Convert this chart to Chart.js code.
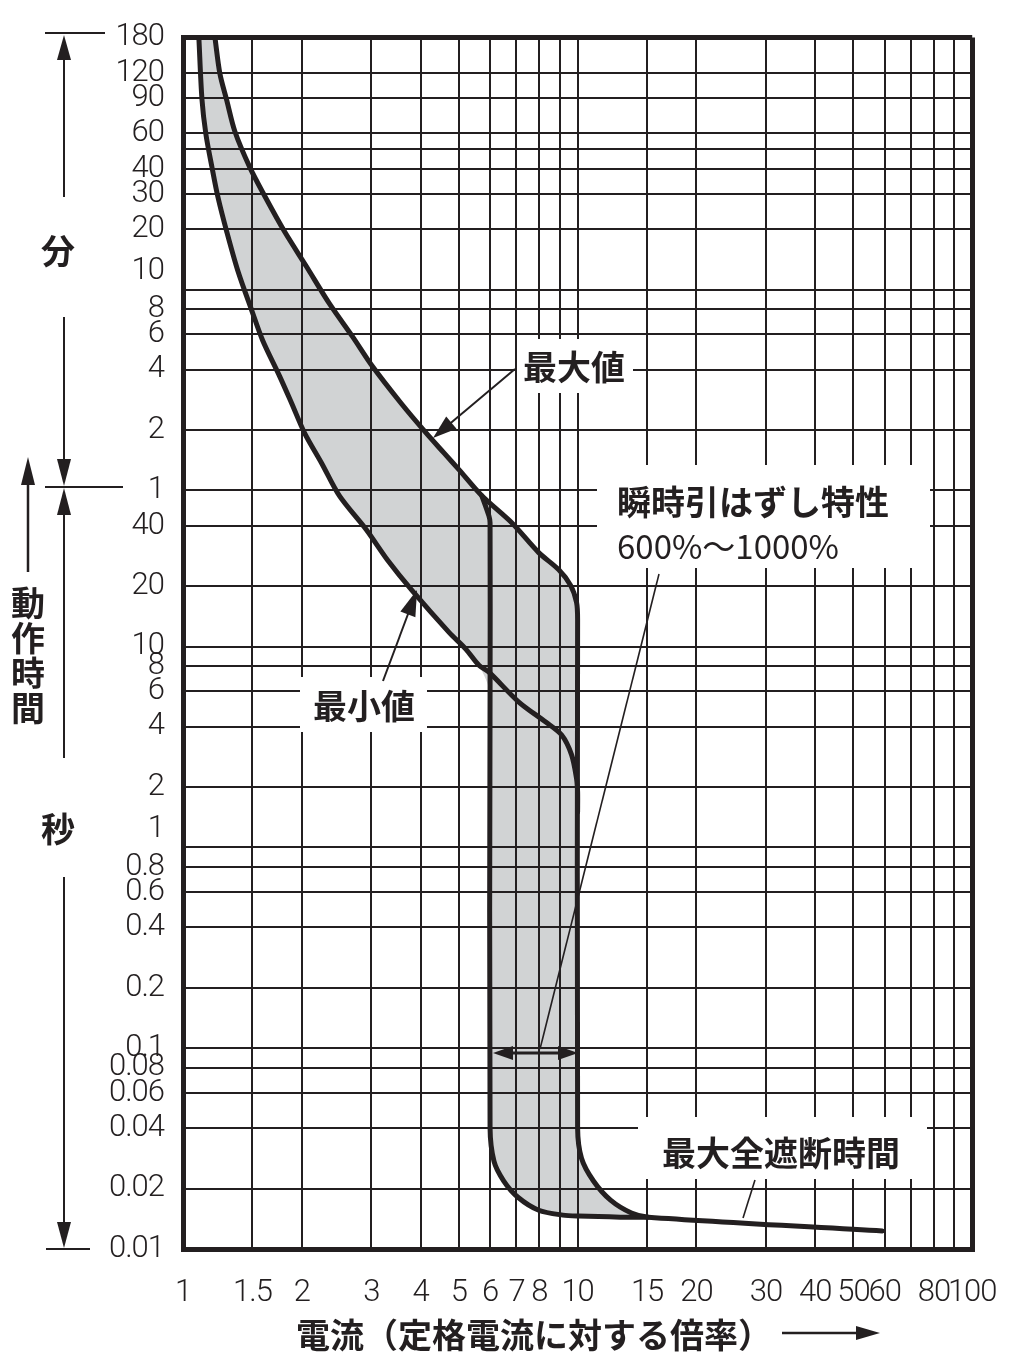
<!DOCTYPE html>
<html>
<head>
<meta charset="utf-8">
<script src="https://cdn.jsdelivr.net/npm/chart.js@4.4.1/dist/chart.umd.min.js"></script>
<style>
html,body{margin:0;padding:0;background:#fff;}
#wrap{position:relative;width:1024px;height:1366px;}
</style>
</head>
<body>
<div id="wrap"><canvas id="c"></canvas></div>
<script>
// ---------- tick values / labels ----------
const xTickValues = [1,1.5,2,3,4,5,6,7,8,9,10,15,20,30,40,50,60,70,80,90,100];
const xTickLabels = ['1','1.5','2','3','4','5','6','7','8','','10','15','20','30','40','50','60','','80','','100'];
// y axis in seconds (upper part labelled in minutes)
const yTickSeconds = [0.01,0.02,0.04,0.06,0.08,0.1,0.2,0.4,0.6,0.8,1,2,4,6,8,10,20,40,60,120,240,360,480,600,1200,1800,2400,3000,3600,5400,7200,10800];
const yTickLabels = ['0.01','0.02','0.04','0.06','0.08','0.1','0.2','0.4','0.6','0.8',['1',''],'2','4','6','8','10','20','40','1','2','4','6','8',['10',''],'20','30','40','','60','90','120','180'];

// ---------- series (x = multiple of rated current, y = seconds) ----------
// maximum curve (thermal max -> 1000% instantaneous -> max total clearing time)
const maxCurveX = [1.205,1.24,1.291,1.353,1.476,1.611,1.81,2.057,2.35,2.687,3.02,3.57,4.13,4.59,5.01,5.72,6.81,7.97,8.95,9.6,9.94,10,10,10.23,10.97,12.12,13.69,15.11,59.2];
const maxCurveY = [10800,7155,5256,3688,2445,1755,1164,780,511,351,249,163,116,92,75.9,56.4,41.4,29.4,24.2,20.2,16.6,13.7,0.04,0.0283,0.0218,0.0175,0.0151,0.0144,0.0123];
// minimum curve (thermal min, continuing to 1000% line)
const minCurveX = [1.097,1.117,1.143,1.184,1.226,1.291,1.377,1.494,1.592,1.758,1.885,2.033,2.244,2.492,2.915,3.294,3.809,4.723,5.215,5.623,5.961,7.096,8.304,9.112,9.656,9.94,10,10];
const minCurveY = [10800,5317,3565,2445,1735,1164,745,472,335,222,163,115.8,82.2,56.3,38.2,27.1,19.0,11.78,9.7,8.08,7.46,5.3,4.21,3.63,2.89,2.2,1.89,1.5];
// 600% instantaneous trip line
const inst6X = [5.72,5.96,6,6,6,6.14,6.5,7.06,7.97,9.17,10.06,12.84,15.11];
const inst6Y = [56.4,44.8,41.4,5.74,0.04,0.0273,0.0218,0.0181,0.0156,0.01475,0.01458,0.01441,0.0144];

const pts = (xs, ys) => xs.map((x, i) => ({x: x, y: ys[i]}));
const maxPts = pts(maxCurveX, maxCurveY);
const minPts = pts(minCurveX, minCurveY);
const instPts = pts(inst6X, inst6Y);
// shaded band: left envelope (min curve, then 600% line) + right envelope (max curve) reversed
const leftEnv = minPts.filter(p => p.y >= 8).concat(instPts.filter(p => p.y < 8));
const lastX = leftEnv[leftEnv.length - 1].x;
const rightEnv = maxPts.filter(p => p.x <= lastX + 1e-9).reverse();
const bandPts = leftEnv.concat(rightEnv);

const INK = '#231f20';
const TICK_FONT = "Roboto,'DejaVu Sans Condensed','Liberation Sans',sans-serif";
const JP = "'Noto Sans CJK JP','Noto Sans CJK SC',sans-serif";

function head(c, x1, y1, x2, y2, len, hw) {
  const a = Math.atan2(y2 - y1, x2 - x1);
  const bx = x2 - len * Math.cos(a), by = y2 - len * Math.sin(a);
  c.beginPath();
  c.moveTo(x2, y2);
  c.lineTo(bx + hw * Math.sin(a), by - hw * Math.cos(a));
  c.lineTo(bx - hw * Math.sin(a), by + hw * Math.cos(a));
  c.closePath();
  c.fill();
}
function seg(c, x1, y1, x2, y2, w) {
  c.lineWidth = w; c.beginPath(); c.moveTo(x1, y1); c.lineTo(x2, y2); c.stroke();
}
function arrow(c, x1, y1, x2, y2, w, len, hw) {
  const a = Math.atan2(y2 - y1, x2 - x1);
  seg(c, x1, y1, x2 - (len - 2) * Math.cos(a), y2 - (len - 2) * Math.sin(a), w);
  head(c, x1, y1, x2, y2, len, hw);
}

const tightTicks = {
  id: 'tightTicks',
  beforeDraw(chart) { try { chart.ctx.letterSpacing = '-1px'; } catch (e) {} }
};

const annotations = {
  id: 'annotations',
  afterDraw(chart) {
    const c = chart.ctx;
    c.save();
    try { c.letterSpacing = '0px'; } catch (e) {}
    c.fillStyle = INK; c.strokeStyle = INK;
    // white label boxes interrupting the grid
    c.fillStyle = '#fff';
    c.fillRect(517, 339, 116, 54);
    c.fillRect(597, 465, 333, 103);
    c.fillRect(300, 677, 127, 55);
    c.fillRect(638, 1117, 289, 62);
    c.fillStyle = INK;

    // callouts
    arrow(c, 515, 369, 433, 438, 2, 24, 8);
    arrow(c, 383, 681, 417, 590, 2, 26, 8);
    seg(c, 659, 574, 540, 1049, 1.6);
    seg(c, 755, 1180, 743, 1218, 1.6);
    // 600%-1000% double arrow on 0.1 s line
    seg(c, 505, 1053, 566, 1053, 3);
    head(c, 540, 1053, 493, 1053, 20, 7);
    head(c, 540, 1053, 578, 1053, 20, 7);

    c.textBaseline = 'middle';
    c.textAlign = 'left';
    c.font = 'bold 34px ' + JP;
    c.fillText('最大値', 523, 367);
    c.fillText('最小値', 313, 706);
    c.fillText('瞬時引はずし特性', 617, 502);
    c.fillText('最大全遮断時間', 662, 1153);
    c.font = '33px ' + JP;
    c.fillText('600%〜1000%', 617, 546);

    // left side: minute / second ranges
    seg(c, 45, 33, 105, 33, 2);
    arrow(c, 64, 197, 64, 35, 2, 25, 7);
    seg(c, 64, 317, 64, 460, 2);
    head(c, 64, 317, 64, 486, 27, 7);
    seg(c, 45, 487, 123, 487, 2);
    head(c, 64, 760, 64, 488, 27, 7);
    seg(c, 64, 512, 64, 758, 2);
    arrow(c, 64, 877, 64, 1248, 2, 26, 7);
    seg(c, 46, 1249, 90, 1249, 2);
    c.textAlign = 'center';
    c.font = 'bold 34px ' + JP;
    c.fillText('分', 58, 251);
    c.fillText('秒', 58, 829);
    const vt = ['動', '作', '時', '間'];
    const vy = [603, 638, 673, 708];
    vt.forEach((ch, i) => c.fillText(ch, 28, vy[i]));
    arrow(c, 28, 572, 28, 457, 2.5, 28, 7);

    // x axis title
    c.textAlign = 'left';
    c.fillText('電流（定格電流に対する倍率）', 296, 1335);
    arrow(c, 782, 1333, 880, 1333, 2.5, 24, 7);
    c.restore();
  }
};

const lineBase = {
  pointRadius: 0, pointHoverRadius: 0, borderColor: INK, borderWidth: 5,
  tension: 0.3, fill: false, borderJoinStyle: 'round', borderCapStyle: 'round'
};

new Chart(document.getElementById('c'), {
  type: 'line',
  data: {
    datasets: [
      { label: 'band', data: bandPts, fill: 'shape', backgroundColor: '#d1d3d4',
        borderColor: 'rgba(0,0,0,0)', borderWidth: 0, pointRadius: 0, tension: 0.3 },
      Object.assign({ label: '最大値', data: maxPts }, lineBase),
      Object.assign({ label: '最小値', data: minPts }, lineBase),
      Object.assign({ label: '瞬時600%', data: instPts }, lineBase)
    ]
  },
  options: {
    responsive: true,
    maintainAspectRatio: false,
    animation: false,
    events: [],
    layout: { padding: { top: 33, right: 49, bottom: 0, left: 0 } },
    plugins: {
      legend: { display: false },
      tooltip: { enabled: false },
      filler: { drawTime: 'beforeDraw' }
    },
    scales: {
      x: {
        type: 'logarithmic', min: 1, max: 100, position: 'bottom',
        afterBuildTicks: s => { s.ticks = xTickValues.map(v => ({value: v})); },
        afterFit: s => { s.height = 117; },
        ticks: {
          autoSkip: false, maxRotation: 0, minRotation: 0, padding: 26, color: INK,
          font: { family: TICK_FONT, size: 31, weight: '300' },
          callback: (v, i) => xTickLabels[i]
        },
        grid: {
          color: INK, drawTicks: false,
          lineWidth: c => (c.tick && (c.tick.value === 1 || c.tick.value === 100)) ? 5 : 2
        },
        border: { display: true, color: INK, width: 5 }
      },
      y: {
        type: 'logarithmic', min: 0.01, max: 10800, position: 'left',
        afterBuildTicks: s => { s.ticks = yTickSeconds.map(v => ({value: v})); },
        afterFit: s => { s.width = 183; },
        ticks: {
          autoSkip: false, padding: 19, color: INK,
          font: { family: TICK_FONT, size: 31, weight: '300' },
          callback: (v, i) => yTickLabels[i]
        },
        grid: {
          color: INK, drawTicks: false,
          lineWidth: c => (c.tick && (c.tick.value === 0.01 || c.tick.value === 10800)) ? 5 : 2
        },
        border: { display: true, color: INK, width: 5 }
      }
    }
  },
  plugins: [tightTicks, annotations]
});
</script>
</body>
</html>
